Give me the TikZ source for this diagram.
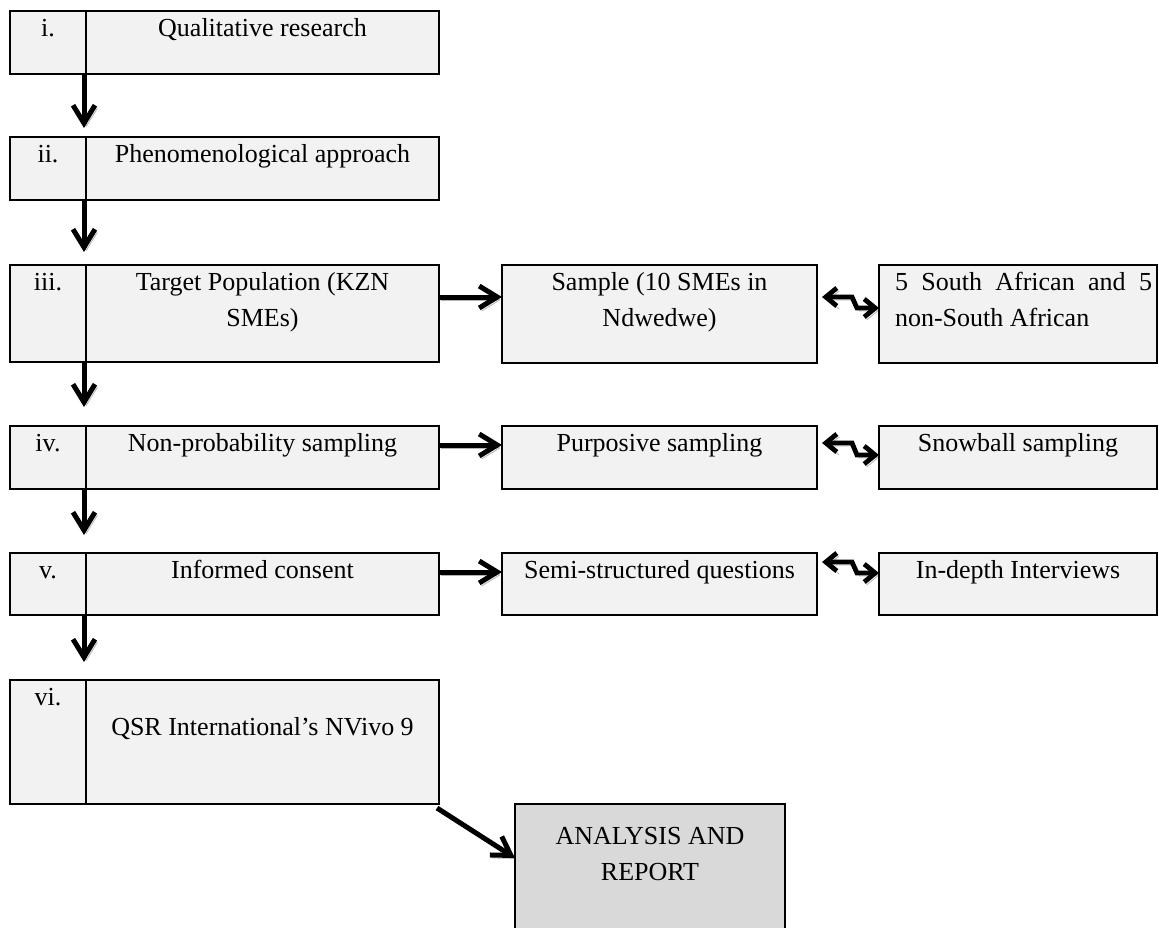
\documentclass[tikz,border=0pt]{standalone}
\usepackage{fontspec}
\setmainfont{Liberation Serif}
\usetikzlibrary{arrows.meta}
\definecolor{cellfill}{HTML}{F2F2F2}
\definecolor{reportfill}{HTML}{D9D9D9}
\tolerance=9999

\begin{document}
\begin{tikzpicture}[x=0.5pt,y=-0.5pt]
% Box and arrow styles
\tikzset{
    cellbox/.style={draw, line width=1.1pt, fill=cellfill, inner sep=0pt, outer sep=0pt,
        anchor=north west},
    boxtext/.style={font=\fontsize{13}{18}\selectfont, inner sep=0pt, outer sep=0pt,
        anchor=north, align=center, execute at begin node=\strut},
    flowarrow/.style={line width=2.5pt, -{Straight Barb[length=9pt,width=11pt]},
        preaction={draw=black!30, transform canvas={shift={(1.2pt,-1.5pt)}}}},
    twoway/.style={line width=2.4pt,
        {Straight Barb[length=5.5pt,width=9pt]}-{Straight Barb[length=5.5pt,width=9pt]},
        preaction={draw=black!30, transform canvas={shift={(1.2pt,-1.5pt)}}}},
}
\useasboundingbox (0,0) rectangle (1159,927);
\clip (0,0) rectangle (1159,927);
% Left column
\node[cellbox, minimum width=38pt, minimum height=31.5pt] (numi) at (10,11) {};
\node[cellbox, minimum width=176.5pt, minimum height=31.5pt] (maini) at (numi.north east) {};
\node[boxtext] (ti) at (numi.north) {i.};
\node[boxtext] (tmi) at (maini.north) {Qualitative research};

\node[cellbox, minimum width=38pt, minimum height=31.5pt] (numii) at (10,137) {};
\node[cellbox, minimum width=176.5pt, minimum height=31.5pt] (mainii) at (numii.north east) {};
\node[boxtext] (tii) at (numii.north) {ii.};
\node[boxtext] (tmii) at (mainii.north) {Phenomenological approach};

\node[cellbox, minimum width=38pt, minimum height=48.5pt] (numiii) at (10,265) {};
\node[cellbox, minimum width=176.5pt, minimum height=48.5pt] (mainiii) at (numiii.north east) {};
\node[boxtext] (tiii) at (numiii.north) {iii.};
\node[boxtext] (tmiii) at (mainiii.north) {\strut Target Population (KZN\\SMEs)};

\node[cellbox, minimum width=38pt, minimum height=31.5pt] (numiv) at (10,426) {};
\node[cellbox, minimum width=176.5pt, minimum height=31.5pt] (mainiv) at (numiv.north east) {};
\node[boxtext] (tiv) at (numiv.north) {iv.};
\node[boxtext] (tmiv) at (mainiv.north) {Non-probability sampling};

\node[cellbox, minimum width=38pt, minimum height=31pt] (numv) at (10,553) {};
\node[cellbox, minimum width=176.5pt, minimum height=31pt] (mainv) at (numv.north east) {};
\node[boxtext] (tv) at (numv.north) {v.};
\node[boxtext] (tmv) at (mainv.north) {Informed consent};

\node[cellbox, minimum width=38pt, minimum height=62pt] (numvi) at (10,680) {};
\node[cellbox, minimum width=176.5pt, minimum height=62pt] (mainvi) at (numvi.north east) {};
\node[boxtext] (tvi) at (numvi.north) {vi.};
\node[boxtext, yshift=-15pt] (tmvi) at (mainvi.north) {QSR International's NVivo 9};

% Middle and right columns
\node[cellbox, minimum width=157.5pt, minimum height=49pt] (sample) at (502,265) {};
\node[boxtext] (tsample) at (sample.north) {\strut Sample (10 SMEs in\\Ndwedwe)};
\node[cellbox, minimum width=139pt, minimum height=49pt] (mixsa) at (879,265) {};
\node
[
    boxtext,
    anchor=north west,
    align=justify,
    text width=128.5pt
] (tmixsa) at ([xshift=8pt]mixsa.north west) {5 South African and 5 non-South African};

\node[cellbox, minimum width=157.5pt, minimum height=31.5pt] (purposive) at (502,426) {};
\node[boxtext] (tpurposive) at (purposive.north) {Purposive sampling};
\node[cellbox, minimum width=139pt, minimum height=31.5pt] (snowball) at (879,426) {};
\node[boxtext] (tsnowball) at (snowball.north) {Snowball sampling};

\node[cellbox, minimum width=157.5pt, minimum height=31pt] (semi) at (502,553) {};
\node[boxtext] (tsemi) at (semi.north) {Semi-structured questions};
\node[cellbox, minimum width=139pt, minimum height=31pt] (indepth) at (879,553) {};
\node[boxtext] (tindepth) at (indepth.north) {In-depth Interviews};

% Final box
\node[cellbox, fill=reportfill, minimum width=135pt, minimum height=80pt] (report) at (515,804) {};
\node[boxtext, yshift=-7.4pt] (treport) at (report.north) {\strut ANALYSIS AND\\REPORT};

% Down arrows
\draw[flowarrow, shorten >=4.5pt] ([xshift=-1pt]numi.south east) -- ([xshift=-1pt]numii.north east);
\draw[flowarrow, shorten >=6.5pt] ([xshift=-1pt]numii.south east) -- ([xshift=-1pt]numiii.north east);
\draw[flowarrow, shorten >=9.5pt] ([xshift=-1pt]numiii.south east) -- ([xshift=-1pt]numiv.north east);
\draw[flowarrow, shorten >=9pt] ([xshift=-1pt]numiv.south east) -- ([xshift=-1pt]numv.north east);
\draw[flowarrow, shorten >=9pt] ([xshift=-1pt]numv.south east) -- ([xshift=-1pt]numvi.north east);
% Side arrows
\draw[flowarrow] ([yshift=-16pt]mainiii.north east) -- ([yshift=-16pt]sample.north west);
\draw[flowarrow] ([yshift=-9.5pt]mainiv.north east) -- ([yshift=-9.5pt]purposive.north west);
\draw[flowarrow] ([yshift=-9.5pt]mainv.north east) -- ([yshift=-9.5pt]semi.north west);
\draw[twoway] ([yshift=-21.5pt]mixsa.north west) -- ++(-11pt,0pt) -- ++(-2.5pt,5.5pt)
    -- ([shift={(2.5pt,-16pt)}]sample.north east);
\draw[twoway] ([yshift=-14.5pt]snowball.north west) -- ++(-11pt,0pt) -- ++(-2.5pt,6pt)
    -- ([shift={(2.5pt,-8.5pt)}]purposive.north east);
\draw[twoway] ([yshift=-10pt]indepth.north west) -- ++(-11pt,0pt) -- ++(-2.5pt,5.5pt)
    -- ([shift={(2.5pt,-4.5pt)}]semi.north east);
\draw[flowarrow] ([shift={(-1pt,-2pt)}]mainvi.south east) -- ([yshift=-27pt]report.north west);
\end{tikzpicture}
\end{document}
